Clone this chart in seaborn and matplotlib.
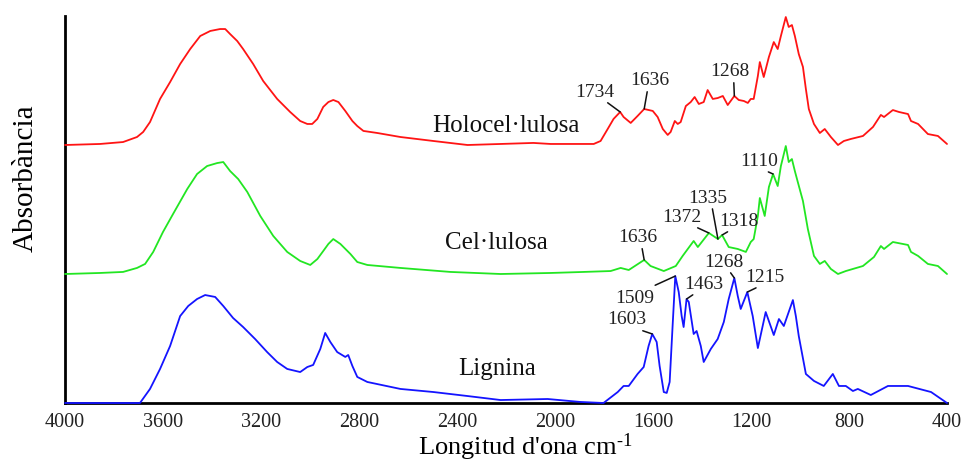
import numpy as np
import pandas as pd
import matplotlib
matplotlib.use("Agg")
import matplotlib.pyplot as plt
from matplotlib.ticker import MultipleLocator, FixedLocator, NullFormatter
import seaborn as sns

# ---- FTIR spectra (wavenumber in cm-1, absorbance in arbitrary units) ----
holo_wn = [4000, 3857, 3763, 3706, 3681, 3653, 3612, 3571, 3530, 3489, 3448, 3407,
           3367, 3346, 3326, 3297, 3273, 3232, 3191, 3134, 3081, 3040, 3011, 2991,
           2970, 2946, 2925, 2905, 2884, 2856, 2827, 2807, 2782, 2725, 2631, 2496,
           2357, 2222, 2088, 2018, 1842, 1814, 1785, 1761, 1734, 1720, 1691, 1663,
           1636, 1601, 1581, 1560, 1540, 1528, 1511, 1499, 1487, 1466, 1446, 1430,
           1413, 1393, 1377, 1356, 1336, 1315, 1295, 1268, 1250, 1229, 1213, 1201,
           1189, 1172, 1164, 1148, 1127, 1107, 1091, 1078, 1058, 1046, 1033, 1021,
           1005, 988, 976, 964, 943, 919, 899, 874, 845, 821, 792, 743, 702, 670,
           657, 621, 596, 559, 547, 518, 478, 437, 400]
holo_abs = [0.000, 0.008, 0.023, 0.062, 0.101, 0.178, 0.357, 0.488, 0.628, 0.744, 0.845, 0.884,
            0.899, 0.899, 0.860, 0.806, 0.744, 0.628, 0.496, 0.357, 0.256, 0.186, 0.163, 0.163,
            0.202, 0.295, 0.333, 0.349, 0.333, 0.264, 0.186, 0.147, 0.109, 0.093, 0.062, 0.031,
            0.000, 0.008, 0.016, 0.008, 0.008, 0.031, 0.124, 0.202, 0.256, 0.217, 0.171, 0.225,
            0.279, 0.264, 0.217, 0.124, 0.078, 0.101, 0.186, 0.163, 0.178, 0.302, 0.333, 0.372,
            0.318, 0.333, 0.426, 0.357, 0.364, 0.380, 0.310, 0.380, 0.349, 0.341, 0.326, 0.357,
            0.357, 0.535, 0.643, 0.527, 0.682, 0.798, 0.744, 0.845, 0.992, 0.915, 0.930, 0.845,
            0.705, 0.605, 0.434, 0.279, 0.163, 0.093, 0.124, 0.062, 0.000, 0.031, 0.047, 0.070, 0.140, 0.233,
            0.217, 0.271, 0.256, 0.240, 0.186, 0.163, 0.085, 0.070, 0.008]

cel_wn = [4000, 3857, 3763, 3706, 3673, 3640, 3600, 3559, 3501, 3461, 3420, 3379,
          3354, 3326, 3293, 3256, 3203, 3150, 3093, 3040, 2999, 2970, 2946, 2925,
          2905, 2876, 2835, 2807, 2766, 2631, 2427, 2222, 2018, 1883, 1773, 1732,
          1699, 1636, 1610, 1556, 1507, 1479, 1434, 1417, 1372, 1335, 1318, 1291,
          1254, 1221, 1201, 1189, 1172, 1164, 1144, 1127, 1110, 1091, 1078, 1058,
          1046, 1033, 1021, 1009, 988, 968, 943, 919, 899, 874, 845, 813, 743, 698,
          670, 657, 621, 559, 547, 518, 478, 437, 400]
cel_abs = [0.000, 0.008, 0.016, 0.047, 0.078, 0.171, 0.326, 0.465, 0.659, 0.775, 0.837, 0.860,
           0.868, 0.798, 0.736, 0.636, 0.450, 0.295, 0.171, 0.101, 0.070, 0.116, 0.178, 0.233,
           0.271, 0.233, 0.155, 0.093, 0.070, 0.047, 0.016, 0.000, 0.008, 0.016, 0.023, 0.047,
           0.031, 0.109, 0.062, 0.023, 0.062, 0.140, 0.256, 0.209, 0.318, 0.271, 0.302, 0.209,
           0.194, 0.171, 0.248, 0.271, 0.450, 0.589, 0.450, 0.674, 0.775, 0.682, 0.837, 0.992,
           0.868, 0.891, 0.798, 0.713, 0.566, 0.349, 0.140, 0.078, 0.101, 0.039, 0.000, 0.023, 0.062, 0.132,
           0.217, 0.194, 0.248, 0.225, 0.171, 0.140, 0.078, 0.062, 0.000]

lig_wn = [4000, 3857, 3694, 3653, 3612, 3571, 3530, 3497, 3461, 3428, 3387, 3354,
          3314, 3273, 3224, 3175, 3134, 3093, 3040, 3011, 2987, 2958, 2938, 2917,
          2889, 2856, 2844, 2827, 2807, 2766, 2631, 2496, 2357, 2222, 2030, 1896,
          1802, 1744, 1720, 1699, 1663, 1638, 1618, 1603, 1585, 1573, 1556, 1544,
          1532, 1520, 1509, 1495, 1483, 1475, 1463, 1454, 1434, 1422, 1405, 1393,
          1364, 1336, 1311, 1291, 1268, 1254, 1242, 1215, 1193, 1172, 1140, 1107,
          1086, 1066, 1029, 1017, 1005, 976, 943, 903, 866, 841, 813, 784, 764,
          711, 641, 559, 465, 400]
lig_abs = [0.000, 0.000, 0.000, 0.109, 0.264, 0.442, 0.674, 0.752, 0.806, 0.837, 0.822, 0.752,
           0.659, 0.589, 0.496, 0.395, 0.318, 0.264, 0.240, 0.279, 0.295, 0.419, 0.543, 0.473,
           0.395, 0.357, 0.372, 0.287, 0.202, 0.163, 0.109, 0.085, 0.054, 0.023, 0.031, 0.008,
           0.000, 0.085, 0.132, 0.132, 0.225, 0.279, 0.442, 0.535, 0.473, 0.287, 0.085, 0.078,
           0.163, 0.597, 0.984, 0.860, 0.674, 0.589, 0.806, 0.783, 0.535, 0.558, 0.442, 0.318,
           0.419, 0.496, 0.628, 0.806, 0.969, 0.829, 0.729, 0.860, 0.674, 0.426, 0.705, 0.527,
           0.651, 0.597, 0.798, 0.674, 0.519, 0.225, 0.171, 0.132, 0.225, 0.132, 0.132, 0.093, 0.109,
           0.062, 0.132, 0.132, 0.085, 0.000]

samples = ["Holocel·lulosa", "Cel·lulosa", "Lignina"]
offsets = [2.0, 1.0, 0.0]
colors = ["#ff1414", "#22e622", "#1414ff"]

# peak labels: sample, wavenumber, text offset (points), line anchor on the label
peak_sample = ["Holocel·lulosa"] * 3 + ["Cel·lulosa"] * 5 + ["Lignina"] * 5
peak_wn = [1734, 1636, 1268, 1636, 1372, 1335, 1318, 1110, 1603, 1509, 1463, 1268, 1215]
peak_dx = [-18.4, 4.0, -3.3, -4.7, -19.4, -7.2, 12.2, -10.0, -18.0, -29.5, 12.2, -7.2, 12.6]
peak_dy = [15.1, 20.9, 18.0, 16.6, 12.2, 30.2, 10.8, 10.0, 10.8, -15.1, 11.5, 12.2, 11.5]
peak_rel = [(0.72, 0), (0.45, 0), (0.6, 0), (0.6, 0), (0.72, 0), (0.6, 0), (0.35, 0),
            (0.55, 0), (0.65, 0), (0.85, 1), (0.35, 0), (0.6, 0), (0.45, 0)]

x_ticks = [4000, 3600, 3200, 2800, 2400, 2000, 1600, 1200, 800, 400]

spectra = {
    "Holocel·lulosa": (holo_wn, holo_abs),
    "Cel·lulosa": (cel_wn, cel_abs),
    "Lignina": (lig_wn, lig_abs),
}

frames = []
for name, off in zip(samples, offsets):
    wn, ab = spectra[name]
    frames.append(pd.DataFrame({"wn": wn, "y": np.array(ab) + off, "sample": name}))
df = pd.concat(frames, ignore_index=True)

sns.set_style("white")
plt.rcParams["font.family"] = ["Liberation Serif", "DejaVu Serif"]
plt.rcParams["mathtext.fontset"] = "custom"
plt.rcParams["mathtext.rm"] = "Liberation Serif"
plt.rcParams["mathtext.it"] = "Liberation Serif:italic"

fig = plt.figure(figsize=(9.63, 4.64), dpi=100)
ax = fig.add_axes([65 / 963, 1 - 404 / 464, 882 / 963, 387 / 464])

sns.lineplot(data=df, x="wn", y="y", hue="sample", palette=dict(zip(samples, colors)),
             estimator=None, sort=False, legend=False, linewidth=1.3, ax=ax)
for line in ax.get_lines():
    line.set_zorder(3)
    line.set_clip_on(False)
    line.set_solid_joinstyle("round")

ax.set_xlim(4000, 400)
ax.set_ylim(0, 3)

for s in ["top", "right"]:
    ax.spines[s].set_visible(False)
for s in ["left", "bottom"]:
    ax.spines[s].set_linewidth(2.0)
    ax.spines[s].set_color("black")

ax.xaxis.set_major_locator(FixedLocator(x_ticks))
ax.xaxis.set_minor_locator(MultipleLocator(200))
ax.set_xticklabels([str(t) for t in x_ticks])
ax.set_yticks([0, 1, 2, 3])
ax.yaxis.set_major_formatter(NullFormatter())
ax.tick_params(axis="x", which="both", direction="out", length=4, width=1.6,
               color="black", pad=2.5, labelsize=14.5, labelcolor="#222222")
ax.tick_params(axis="y", which="major", direction="out", length=5, width=1.6, color="black")

ax.set_xlabel("Longitud d'ona cm$^{\\mathregular{‐1}}$", fontsize=19, color="black")
ax.xaxis.set_label_coords(0.5215, -0.07)
ax.set_ylabel("Absorbància", fontsize=21, color="black")
ax.yaxis.set_label_coords(-0.0295, 0.584)

# sample names next to each trace
name_pos = {"Holocel·lulosa": (2202, 2.109), "Cel·lulosa": (2239, 1.202), "Lignina": (2235, 0.225)}
for name in samples:
    x, y = name_pos[name]
    ax.text(x, y, name, ha="center", va="baseline", fontsize=18, color="#111111")

# peak assignments
for s, w, dx, dy, rp in zip(peak_sample, peak_wn, peak_dx, peak_dy, peak_rel):
    wn, ab = spectra[s]
    off = offsets[samples.index(s)]
    yv = np.interp(w, wn[::-1], ab[::-1]) + off
    ax.annotate(str(w), xy=(w, yv), xytext=(dx, dy), textcoords="offset points",
                ha="center", va="center", fontsize=14, color="#222222",
                arrowprops=dict(arrowstyle="-", color="#111111", lw=1.1,
                                shrinkA=0, shrinkB=0, relpos=rp))

fig.savefig("out.png", dpi=100, facecolor="white")
